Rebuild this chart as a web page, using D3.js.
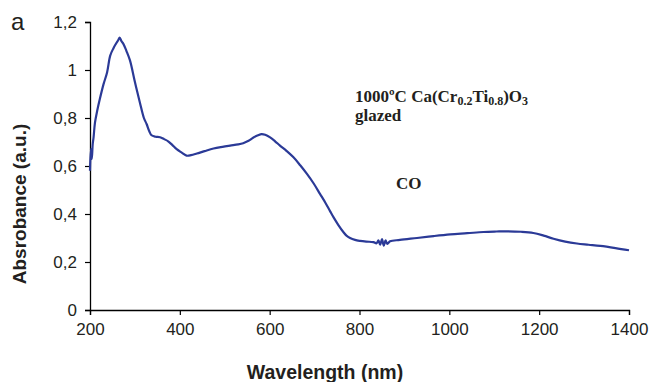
<!DOCTYPE html>
<html>
<head>
<meta charset="utf-8">
<script src="https://cdn.jsdelivr.net/npm/d3@7"></script>
<style>
  body { margin: 0; background: #fff; }
</style>
</head>
<body>
<script>
// wavelength (nm) and absorbance
var wavelength = [200, 202, 204, 206, 208, 211, 216, 222, 230, 238, 245, 252, 258, 263, 266, 270, 274, 281, 289, 300,
  311, 320, 326, 332, 337, 346, 356, 365, 374, 383, 393, 405, 415, 425, 438, 455, 475, 495, 512, 530,
  541, 553, 564, 574, 582, 590, 601, 612, 623, 638, 653, 668, 683, 698, 712, 724, 735, 742, 753, 764,
  771, 779, 790, 801, 815, 831, 838, 842, 846, 850, 854, 858, 862, 868, 890, 928, 965, 1002, 1040, 1076,
  1105, 1128, 1160, 1187, 1210, 1232, 1258, 1284, 1310, 1336, 1370, 1400];
var absorbance = [0.58, 0.67, 0.63, 0.69, 0.72, 0.78, 0.83, 0.88, 0.94, 0.99, 1.06, 1.09, 1.11, 1.125, 1.135, 1.12, 1.11, 1.08, 1.04, 0.95,
  0.865, 0.80, 0.775, 0.745, 0.728, 0.722, 0.72, 0.712, 0.703, 0.688, 0.67, 0.655, 0.643, 0.645, 0.652, 0.662, 0.673, 0.68, 0.685, 0.69,
  0.695, 0.705, 0.719, 0.728, 0.733, 0.73, 0.719, 0.703, 0.685, 0.662, 0.636, 0.603, 0.567, 0.527, 0.484, 0.447, 0.41, 0.387, 0.354, 0.325,
  0.31, 0.30, 0.292, 0.288, 0.285, 0.283, 0.278, 0.29, 0.272, 0.295, 0.268, 0.29, 0.275, 0.286, 0.292, 0.30, 0.308, 0.315, 0.32, 0.325,
  0.327, 0.328, 0.326, 0.321, 0.31, 0.297, 0.285, 0.277, 0.272, 0.267, 0.258, 0.249];

var xTicks = [200, 400, 600, 800, 1000, 1200, 1400];
var yTicks = [0, 0.2, 0.4, 0.6, 0.8, 1, 1.2];

var sans = "Liberation Sans, Arial, sans-serif";
var serif = "Liberation Serif, Times New Roman, serif";
var ink = "#231f20";

var svgWidth = 649;
var svgHeight = 382;
var margin = {top: 22, left: 90, right: 20, bottom: 72};
var width = svgWidth - margin.left - margin.right;   // 539
var height = svgHeight - margin.top - margin.bottom; // 288

var svg = d3.select("body").append("svg")
  .attr("width", svgWidth)
  .attr("height", svgHeight);

var chartGroup = svg.append("g")
  .attr("transform", `translate(${margin.left}, ${margin.top})`);

var xScale = d3.scaleLinear().domain([200, 1400]).range([0, width]);
var yScale = d3.scaleLinear().domain([0, 1.2]).range([height, 0]);

var comma = d => String(d).replace(".", ",");

// axes
var xAxis = chartGroup.append("g")
  .attr("transform", `translate(0,${height})`)
  .call(d3.axisBottom(xScale).tickValues(xTicks).tickSize(5).tickPadding(8).tickFormat(d3.format("d")));
var yAxis = chartGroup.append("g")
  .call(d3.axisLeft(yScale).tickValues(yTicks).tickSize(5).tickPadding(8).tickFormat(comma));

[xAxis, yAxis].forEach(a => {
  a.select(".domain").attr("stroke", "#000").attr("stroke-width", 1.3);
  a.selectAll(".tick line").attr("stroke", "#000").attr("stroke-width", 1.2);
  a.selectAll(".tick text").attr("font-size", 17).attr("font-family", sans).attr("fill", ink);
});

// spectrum
var points = wavelength.map((w, i) => [w, absorbance[i]]);
var line = d3.line()
  .x(d => xScale(d[0]))
  .y(d => yScale(d[1]))
  .curve(d3.curveCatmullRom.alpha(0.5));

chartGroup.append("path")
  .datum(points)
  .attr("fill", "none")
  .attr("stroke", "#2b3a97")
  .attr("stroke-width", 2.2)
  .attr("stroke-linejoin", "round")
  .attr("d", line);

// axis titles
svg.append("text")
  .attr("x", 325)
  .attr("y", 379)
  .attr("text-anchor", "middle")
  .attr("font-family", sans)
  .attr("fill", ink)
  .attr("font-size", 19.5)
  .attr("font-weight", "bold")
  .text("Wavelength (nm)");

svg.append("text")
  .attr("transform", "translate(26,204) rotate(-90)")
  .attr("text-anchor", "middle")
  .attr("font-family", sans)
  .attr("fill", ink)
  .attr("font-size", 19)
  .attr("font-weight", "bold")
  .text("Absrobance (a.u.)");

// panel label
svg.append("text")
  .attr("x", 11)
  .attr("y", 30)
  .attr("font-family", sans)
  .attr("fill", ink)
  .attr("font-size", 24)
  .text("a");

// annotation
var note = svg.append("text")
  .attr("x", 355)
  .attr("y", 102)
  .attr("font-family", serif)
  .attr("fill", ink)
  .attr("font-weight", "bold")
  .attr("font-size", 17);
note.append("tspan").text("1000ºC Ca(Cr");
note.append("tspan").attr("font-size", 12).attr("dy", 3).text("0.2");
note.append("tspan").attr("dy", -3).text("Ti");
note.append("tspan").attr("font-size", 12).attr("dy", 3).text("0.8");
note.append("tspan").attr("dy", -3).text(")O");
note.append("tspan").attr("font-size", 12).attr("dy", 3).text("3");

svg.append("text")
  .attr("x", 355)
  .attr("y", 121)
  .attr("font-family", serif)
  .attr("fill", ink)
  .attr("font-weight", "bold")
  .attr("font-size", 17)
  .text("glazed");

svg.append("text")
  .attr("x", 396)
  .attr("y", 189)
  .attr("font-family", serif)
  .attr("fill", ink)
  .attr("font-weight", "bold")
  .attr("font-size", 17)
  .text("CO");
</script>
</body>
</html>
